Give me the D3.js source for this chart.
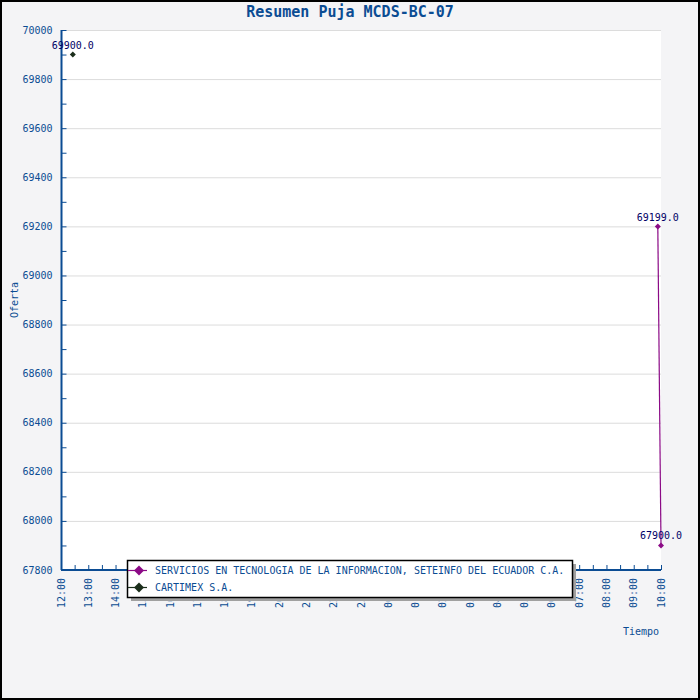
<!DOCTYPE html>
<html><head><meta charset="utf-8">
<script src="https://cdn.jsdelivr.net/npm/d3@7"></script>
<style>
html,body{margin:0;padding:0;background:#fff;}
svg{display:block;}
text{font-family:"DejaVu Sans Mono",monospace;}
</style></head>
<body>
<script>
// ---- data ----
const title = "Resumen Puja MCDS-BC-07";
const yLabel = "Oferta";
const xLabel = "Tiempo";
const seriesNames = ["SERVICIOS EN TECNOLOGIA DE LA INFORMACION, SETEINFO DEL ECUADOR C.A.", "CARTIMEX S.A."];
const seriesColors = ["#8b0a86", "#1b2e1b"];
const seteinfoTimes = ["2011-01-02T09:53", "2011-01-02T10:00"];
const seteinfoValues = [69199.0, 67900.0];
const cartimexTimes = ["2011-01-01T12:26"];
const cartimexValues = [69900.0];
const xStart = "2011-01-01T12:00";
const xEnd = "2011-01-02T10:00";
const yDomain = [67800, 70000];
const yMajorStep = 200;
const yMinorStep = 100;

const W = 700, H = 700;
const plot = {l: 61, t: 30, r: 661, b: 570};
const parse = d3.timeParse("%Y-%m-%dT%H:%M");
const blue = "#0b4c93";

const svg = d3.select("body").append("svg").attr("width", W).attr("height", H);
svg.append("rect").attr("x",1).attr("y",1).attr("width",W-2).attr("height",H-2)
  .attr("fill","#f4f4f6").attr("stroke","#000").attr("stroke-width",2);
svg.append("rect").attr("x",plot.l).attr("y",plot.t).attr("width",plot.r-plot.l).attr("height",plot.b-plot.t).attr("fill","#fff");

const x = d3.scaleTime().domain([parse(xStart), parse(xEnd)]).range([plot.l, plot.r]);
const y = d3.scaleLinear().domain(yDomain).range([plot.b, plot.t]);

// grid
const majors = d3.range(yDomain[0], yDomain[1] + 1, yMajorStep);
const minors = d3.range(yDomain[0], yDomain[1] + 1, yMinorStep);
svg.append("g").selectAll("line").data(majors.slice(1)).join("line")
  .attr("x1", plot.l).attr("x2", plot.r).attr("y1", d => y(d)+0.5).attr("y2", d => y(d)+0.5)
  .attr("stroke", "#dcdcdc").attr("stroke-width", 1);

// y axis
const yAxis = svg.append("g").attr("transform", `translate(${plot.l+0.5},0)`);
yAxis.append("line").attr("y1", plot.t).attr("y2", plot.b).attr("stroke", blue).attr("stroke-width", 2);
yAxis.selectAll("line.t").data(minors).join("line").attr("class","t")
  .attr("x1", 0).attr("x2", 5).attr("y1", d => y(d)+0.5).attr("y2", d => y(d)+0.5).attr("stroke", blue);
yAxis.selectAll("text").data(majors).join("text")
  .attr("x", -9).attr("y", d => y(d)).attr("dy", "0.35em").attr("text-anchor", "end")
  .attr("font-size", 10).attr("fill", blue).text(d => d);

// x axis
const xAxis = svg.append("g").attr("transform", `translate(0,${plot.b})`);
xAxis.append("line").attr("x1", plot.l).attr("x2", plot.r).attr("stroke", blue).attr("stroke-width", 2);
const halfHours = d3.timeMinute.every(30).range(parse(xStart), new Date(+parse(xEnd) + 1));
xAxis.selectAll("line.t").data(halfHours).join("line").attr("class","t")
  .attr("x1", d => x(d)+0.5).attr("x2", d => x(d)+0.5).attr("y1", 0).attr("y2", -5).attr("stroke", blue);
const hours = d3.timeHour.every(1).range(parse(xStart), new Date(+parse(xEnd) + 1));
const fmt = d3.timeFormat("%H:%M");
xAxis.selectAll("text").data(hours).join("text")
  .attr("transform", d => `translate(${x(d)},8) rotate(-90)`)
  .attr("text-anchor", "end").attr("dy", "0.35em")
  .attr("font-size", 10).attr("fill", blue).text(d => fmt(d));

// titles
svg.append("text").attr("x", 350).attr("y", 17).attr("text-anchor", "middle")
  .attr("font-size", 15).attr("font-weight", "bold").attr("fill", blue).text(title);
svg.append("text").attr("transform", `translate(18,300) rotate(-90)`).attr("text-anchor", "middle")
  .attr("font-size", 10).attr("fill", blue).text(yLabel);
svg.append("text").attr("x", 641).attr("y", 635).attr("text-anchor", "middle")
  .attr("font-size", 10).attr("fill", blue).text(xLabel);

// series
const series = [
  {name: seriesNames[0], color: seriesColors[0], pts: seteinfoTimes.map((t,i)=>({t: parse(t), v: seteinfoValues[i]}))},
  {name: seriesNames[1], color: seriesColors[1], pts: cartimexTimes.map((t,i)=>({t: parse(t), v: cartimexValues[i]}))}
];
const line = d3.line().x(d => x(d.t)).y(d => y(d.v));
const diam = r => `M0,${-r}L${r},0L0,${r}L${-r},0Z`;
series.forEach(s => {
  const g = svg.append("g");
  if (s.pts.length > 1) g.append("path").attr("d", line(s.pts)).attr("fill","none").attr("stroke", s.color).attr("stroke-width", 1.2);
  g.selectAll("path.m").data(s.pts).join("path").attr("class","m")
    .attr("transform", d => `translate(${x(d.t)},${y(d.v)})`).attr("d", diam(3)).attr("fill", s.color);
  g.selectAll("text").data(s.pts).join("text")
    .attr("x", d => x(d.t)).attr("y", d => y(d.v) - 6).attr("text-anchor", "middle")
    .attr("font-size", 10).attr("fill", "#000066").text(d => d.v.toFixed(1));
});

// legend
const lg = {x: 127, y: 560, w: 445, h: 37};
svg.append("rect").attr("x", lg.x+4).attr("y", lg.y+4).attr("width", lg.w).attr("height", lg.h).attr("fill", "#a0a0a0");
svg.append("rect").attr("x", lg.x+0.5).attr("y", lg.y+0.5).attr("width", lg.w).attr("height", lg.h).attr("fill", "#fff").attr("stroke", "#000").attr("stroke-width", 1.5);
series.forEach((s, i) => {
  const cy = lg.y + 10 + i * 17;
  svg.append("line").attr("x1", lg.x+1).attr("x2", lg.x+20).attr("y1", cy+0.5).attr("y2", cy+0.5).attr("stroke", s.color).attr("stroke-width", 1.2);
  svg.append("path").attr("transform", `translate(${lg.x+12},${cy+0.5})`).attr("d", diam(5)).attr("fill", s.color);
  svg.append("text").attr("x", lg.x+28).attr("y", cy).attr("dy", "0.35em").attr("font-size", 10).attr("fill", blue).text(s.name);
});
</script>
</body></html>
